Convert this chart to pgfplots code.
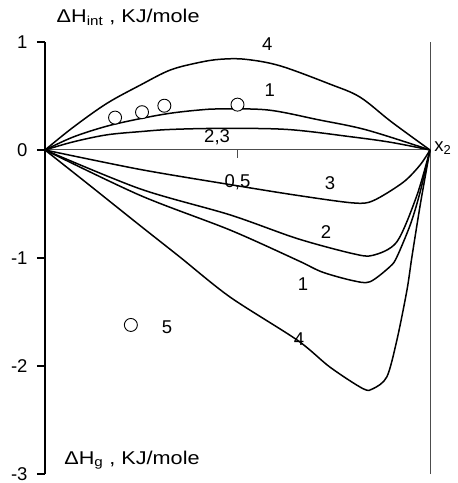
\documentclass[border=0pt]{standalone}
\usepackage{fontspec}
\setmainfont{Liberation Sans}
\newfontfamily\widefont{Liberation Sans}[FakeStretch=1.17]
\usepackage{pgfplots}
\pgfplotsset{compat=1.18}
\begin{document}
\begin{tikzpicture}[every node/.append style={font=\fontsize{18.5}{22}\selectfont}]
\begin{axis}[
  name=ax,
  scale only axis, width=385pt, height=432pt,
  xmin=0, xmax=1, ymin=-3, ymax=1,
  enlargelimits=false, clip=false,
  axis y line=left, axis x line=none,
  y axis line style={-, line width=1.3pt},
  ytick={-3,-2,-1,0,1}, xtick=\empty,
  tick align=outside, major tick length=8pt,
  tick style={line width=1.2pt, black},
  yticklabel style={font=\fontsize{18.5}{22}\selectfont, xshift=-6pt},
  /pgf/number format/assume math mode=true,
  every axis plot/.append style={line width=1.5pt, black},
]
% reference lines
\draw[gray!60!black, line width=1pt] (axis cs:0,0) -- (axis cs:1,0);
\draw[gray!60!black, line width=1pt] (axis cs:1,-3) -- (axis cs:1,1);
\draw[gray!60!black, line width=1pt] (axis cs:0.5,0) -- (axis cs:0.5,-0.074);
% upper curves
\addplot[smooth, tension=0.55] coordinates {(0,0) (0.073,0.21) (0.16,0.43) (0.247,0.60) (0.325,0.74) (0.4,0.81) (0.455,0.84) (0.52,0.84) (0.61,0.78) (0.74,0.61) (0.818,0.49) (0.9,0.26) (1,0)};
\addplot[smooth, tension=0.55] coordinates {(0,0) (0.073,0.12) (0.16,0.22) (0.247,0.29) (0.325,0.34) (0.4,0.37) (0.455,0.38) (0.58,0.37) (0.71,0.28) (0.836,0.185) (1,0)};
\addplot[smooth, tension=0.55] coordinates {(0,0) (0.073,0.075) (0.16,0.14) (0.247,0.17) (0.325,0.19) (0.455,0.20) (0.63,0.19) (0.8,0.12) (0.9,0.07) (1,0)};
% lower curves
\addplot[smooth, tension=0.5] coordinates {(0,0) (0.247,-0.18) (0.48,-0.32) (0.655,-0.42) (0.8,-0.49) (0.852,-0.47) (0.93,-0.30) (0.974,-0.14) (1,0)};
\addplot[smooth, tension=0.5] coordinates {(0,0) (0.247,-0.36) (0.48,-0.60) (0.655,-0.82) (0.8,-0.96) (0.852,-0.975) (0.914,-0.85) (0.966,-0.42) (1,0)};
\addplot[smooth, tension=0.5] coordinates {(0,0) (0.247,-0.42) (0.48,-0.74) (0.655,-1.02) (0.72,-1.13) (0.80,-1.21) (0.844,-1.22) (0.896,-1.08) (0.914,-0.99) (0.95,-0.68) (0.975,-0.38) (1,0)};
\addplot[smooth, tension=0.5] coordinates {(0,0) (0.117,-0.33) (0.247,-0.70) (0.35,-0.99) (0.48,-1.36) (0.655,-1.76) (0.74,-2.01) (0.826,-2.21) (0.852,-2.21) (0.888,-2.10) (0.914,-1.76) (0.94,-1.30) (0.953,-0.99) (0.975,-0.5) (1,0)};
% experimental points
\addplot[only marks, mark=*, mark size=6.5pt, line width=0.9pt, mark options={fill=white, draw=black}] coordinates {(0.182,0.30) (0.252,0.35) (0.31,0.41) (0.50,0.42)};
\addplot[only marks, mark=*, mark size=6.5pt, line width=0.9pt, mark options={fill=white, draw=black}] coordinates {(0.223,-1.62)};
% labels
\node at (axis cs:0.577,0.98) {4};
\node at (axis cs:0.584,0.555) {1};
\node at (axis cs:0.447,0.12) {2,3};
\node at (axis cs:0.5,-0.30) {0,5};
\node at (axis cs:0.74,-0.31) {3};
\node at (axis cs:0.73,-0.76) {2};
\node at (axis cs:0.67,-1.24) {1};
\node at (axis cs:0.66,-1.75) {4};
\node at (axis cs:0.317,-1.64) {5};
\node[anchor=west, inner sep=1pt] at (axis cs:1,0.02) {\,x\textsubscript{2}};
\node at (axis cs:0.216,1.23) {\widefont ΔH\textsubscript{int} , KJ/mole};
\node at (axis cs:0.226,-2.87) {\widefont ΔH\textsubscript{g} , KJ/mole};
\end{axis}
\pgfresetboundingbox
\path ([xshift=-45pt,yshift=-9pt]ax.south west) rectangle ([xshift=27pt,yshift=42pt]ax.north east);
\end{tikzpicture}
\end{document}
